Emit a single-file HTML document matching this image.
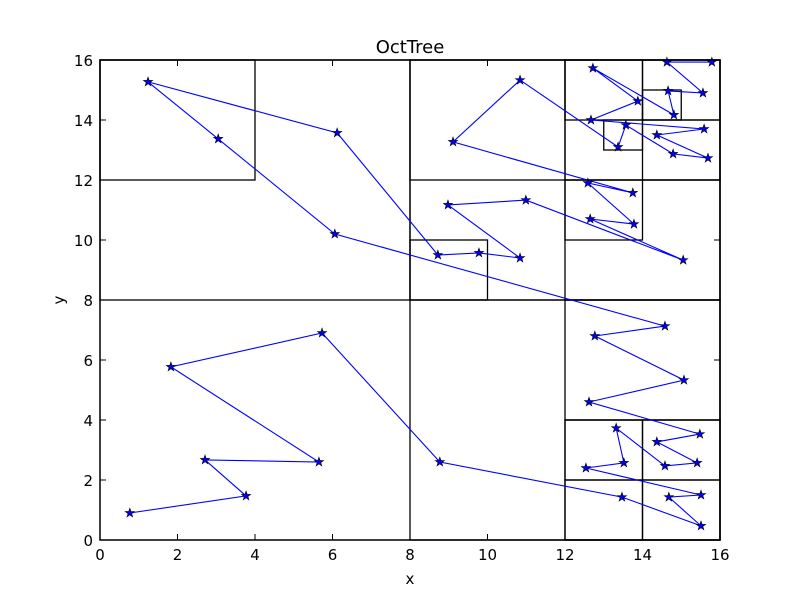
<!DOCTYPE html>
<html><head><meta charset="utf-8"><style>
body{margin:0;background:#fff}
svg{display:block;font-family:"DejaVu Sans","Liberation Sans",sans-serif}
</style></head><body>
<svg id="chart" width="800" height="600" viewBox="0 0 800 600" xmlns="http://www.w3.org/2000/svg">
<rect width="800" height="600" fill="#fff"/>
<g id="boxes"></g>
<g id="series"></g>
<g id="axes"></g>
<text x="410" y="53" font-size="18" text-anchor="middle">OctTree</text>
<text x="410" y="584" font-size="15" text-anchor="middle">x</text>
<text x="64" y="300" font-size="15" text-anchor="middle" transform="rotate(-90 64 300)">y</text>
</svg>
<script>
const xs=[0.77,3.77,2.71,5.65,1.83,5.73,8.77,13.47,15.51,14.68,15.51,12.54,13.52,13.32,14.58,15.41,14.37,15.48,12.62,15.07,12.77,14.58,6.06,3.05,1.24,6.12,8.72,9.78,10.84,8.98,10.99,15.05,12.65,13.78,12.59,13.75,9.11,10.84,13.37,13.57,14.79,15.69,14.37,15.59,12.67,13.88,12.72,14.81,14.66,15.56,14.63,15.79];
const ys=[0.9,1.47,2.67,2.6,5.77,6.9,2.6,1.43,0.47,1.43,1.5,2.4,2.57,3.73,2.47,2.57,3.27,3.53,4.6,5.33,6.8,7.13,10.2,13.37,15.27,13.57,9.5,9.57,9.4,11.17,11.33,9.33,10.7,10.53,11.9,11.57,13.27,15.33,13.1,13.83,12.87,12.73,13.5,13.7,14.0,14.63,15.73,14.17,14.97,14.9,15.93,15.93];
const boxX0=[0,8,0,8,0,8,12,8,12,12,14,12,14,13,14,12,12,12,14,12,14];
const boxY0=[0,8,12,0,8,12,12,8,8,10,14,14,12,13,14,4,0,2,2,0,0];
const boxX1=[16,16,4,16,8,12,16,10,16,14,16,14,16,14,15,16,16,14,16,14,16];
const boxY1=[16,16,16,8,16,16,16,10,12,12,16,16,14,14,15,8,4,4,4,2,2];
const xTicks=[0,2,4,6,8,10,12,14,16];
const yTicks=[0,2,4,6,8,10,12,14,16];
const L=100,R=720,T=60,B=540;
const sx=v=>L+(v-0)/16*(R-L);
const sy=v=>B-(v-0)/16*(B-T);
const NS='http://www.w3.org/2000/svg';
function mk(t,a,p){const e=document.createElementNS(NS,t);for(const k in a)e.setAttribute(k,a[k]);p.appendChild(e);return e;}
const gb=document.getElementById('boxes');
for(let i=0;i<boxX0.length;i++){
  const r=mk('rect',{x:sx(boxX0[i]),y:sy(boxY1[i]),width:sx(boxX1[i])-sx(boxX0[i]),height:sy(boxY0[i])-sy(boxY1[i]),fill:'none',stroke:'#000','stroke-width':1.3},gb);
  
  
}
const gs=document.getElementById('series');
const pl=mk('polyline',{points:xs.map((x,i)=>sx(x)+','+sy(ys[i])).join(' '),fill:'none',stroke:'#0000ff','stroke-width':1.1},gs);


let star='';
for(let k=0;k<10;k++){const r=k%2?1.9:4.8;const a=-Math.PI/2+k*Math.PI/5;star+=(k?'L':'M')+(r*Math.cos(a)).toFixed(2)+' '+(r*Math.sin(a)).toFixed(2);}
star+='Z';
for(let i=0;i<xs.length;i++){
  const p=mk('path',{d:star,transform:'translate('+sx(xs[i])+','+sy(ys[i])+')',fill:'#0000ff',stroke:'#000','stroke-width':0.6},gs);
  
  
}
const ga=document.getElementById('axes');
const fr=mk('rect',{x:L,y:T,width:R-L,height:B-T,fill:'none',stroke:'#000','stroke-width':1.3},ga);


xTicks.forEach(v=>{
  const x=sx(v);
  mk('line',{x1:x,y1:B,x2:x,y2:B-6,stroke:'#000'},ga);
  mk('line',{x1:x,y1:T,x2:x,y2:T+6,stroke:'#000'},ga);
  const t=mk('text',{x:x,y:B+20,'font-size':15,'text-anchor':'middle'},ga);
  t.textContent=v;
  
  
});
yTicks.forEach(v=>{
  const y=sy(v);
  mk('line',{x1:L,y1:y,x2:L+6,y2:y,stroke:'#000'},ga);
  mk('line',{x1:R,y1:y,x2:R-6,y2:y,stroke:'#000'},ga);
  const t=mk('text',{x:L-7,y:y+6,'font-size':15,'text-anchor':'end'},ga);
  t.textContent=v;
  
  
});
</script>
</body></html>
